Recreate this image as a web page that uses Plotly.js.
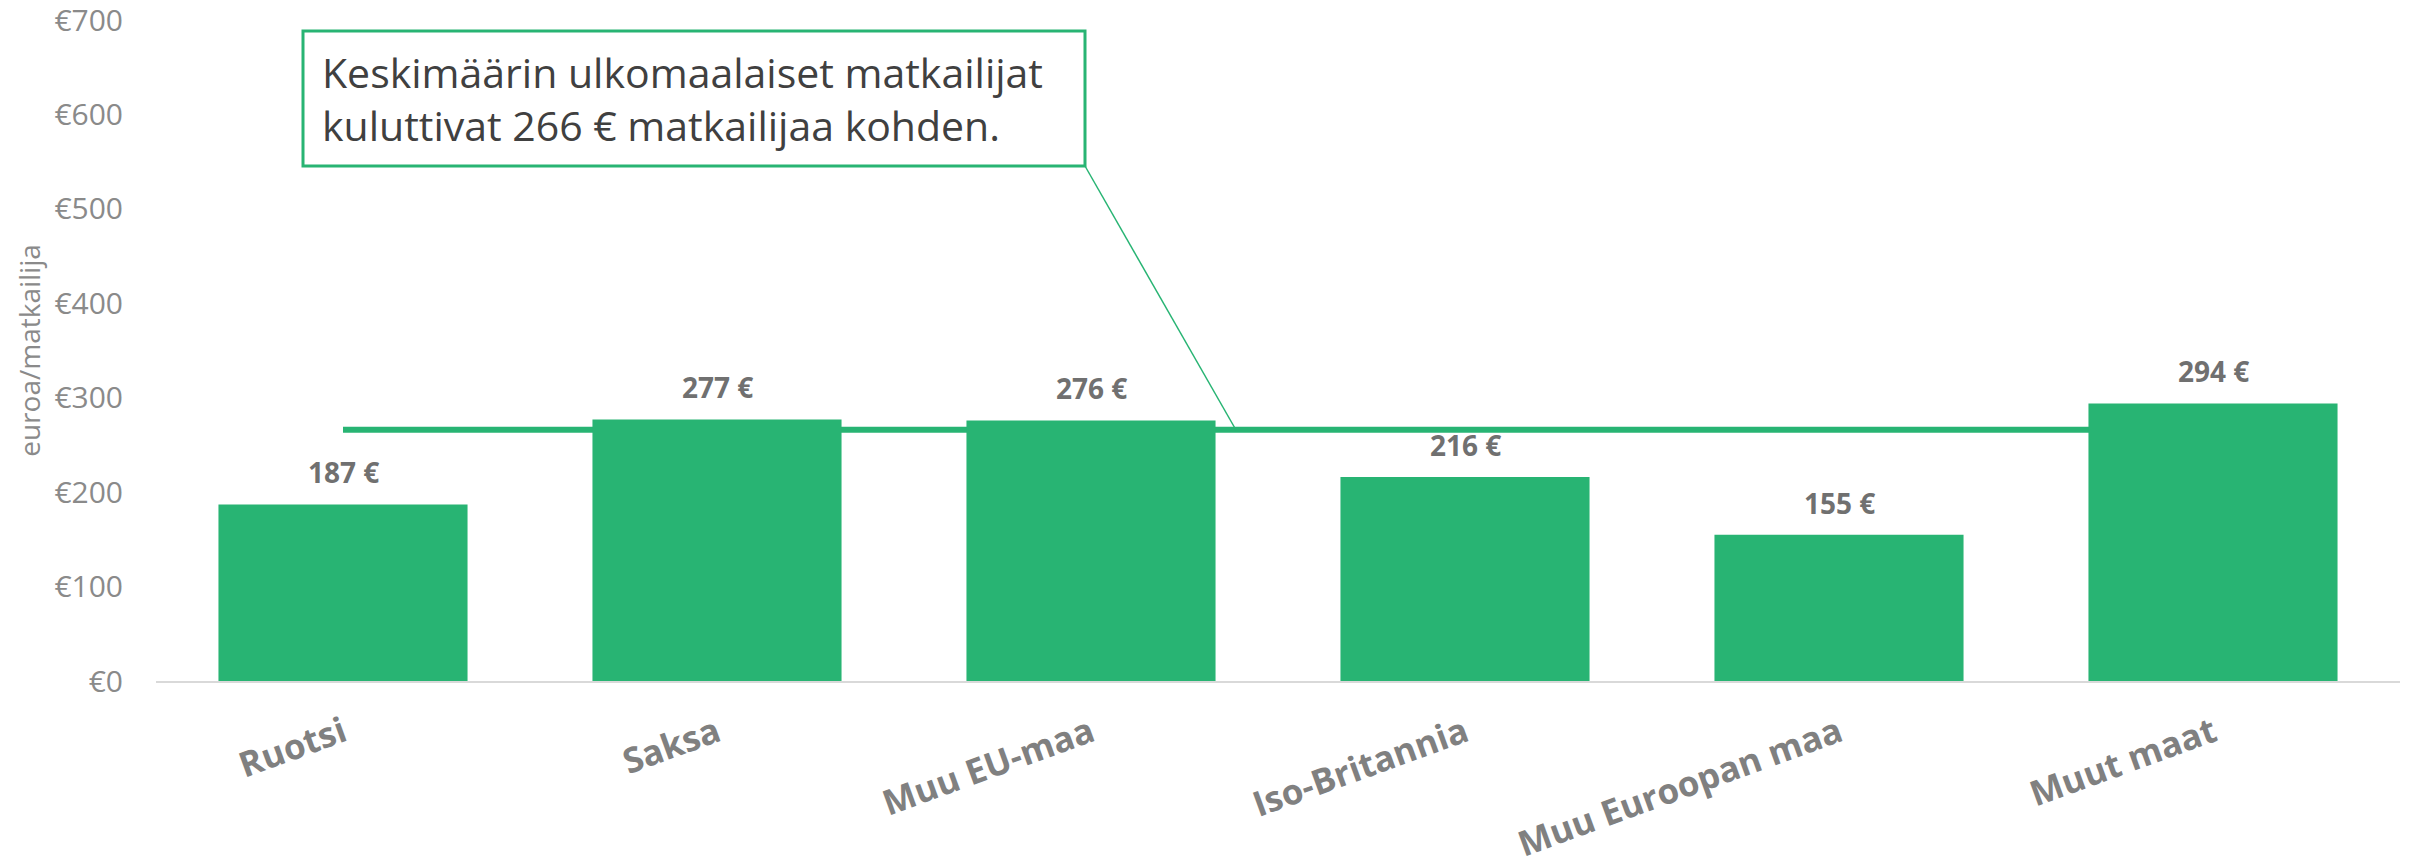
<!DOCTYPE html>
<html>
<head>
<meta charset="utf-8">
<script src="https://cdn.plot.ly/plotly-3.0.1.min.js"></script>
<style>html,body{margin:0;padding:0;background:#fff;}#chart{width:2410px;height:867px;}</style>
</head>
<body>
<div id="chart"></div>
<script>
// ---- data ----
const categories = ['Ruotsi', 'Saksa', 'Muu EU-maa', 'Iso-Britannia', 'Muu Euroopan maa', 'Muut maat'];
const spending = [187, 277, 276, 216, 155, 294];
const averageSpending = 266;
const averageSeries = categories.map(() => averageSpending);
const noteLines = ['Keskimäärin ulkomaalaiset matkailijat', 'kuluttivat 266 € matkailijaa kohden.'];
const yTitle = 'euroa/matkailija';

// ---- styling / geometry ----
const GREEN = '#28B473';
const W = 2410, H = 867;
const M = {l: 156, r: 10, t: 20, b: 186};
const PW = W - M.l - M.r, PH = H - M.t - M.b;
const px = x => (x - M.l) / PW;          // pixel -> paper x
const py = y => (M.t + PH - y) / PH;     // pixel -> paper y

const lineTrace = {
  type: 'scatter', mode: 'lines',
  x: categories, y: averageSeries,
  xaxis: 'x', yaxis: 'y',
  line: {color: GREEN, width: 6},
  hoverinfo: 'skip', showlegend: false
};
const barTrace = {
  type: 'bar',
  x: categories, y: spending,
  xaxis: 'x2', yaxis: 'y2',
  marker: {color: GREEN, line: {width: 0}},
  showlegend: false
};

const labelAnnotations = categories.map((c, i) => ({
  xref: 'x2', yref: 'y2', x: c, y: spending[i],
  text: spending[i] + ' €', showarrow: false,
  yanchor: 'bottom', yshift: 11,
  font: {family: 'Open Sans', size: 28, color: '#707070', weight: 700}
}));

const noteAnnotation = {
  xref: 'paper', yref: 'paper',
  x: px(321), y: py(98),
  xanchor: 'left', yanchor: 'middle', align: 'left',
  text: noteLines.join('<br>'), showarrow: false, borderpad: 0,
  font: {family: 'Open Sans', size: 41, color: '#404040'}
};

const xCommon = {
  type: 'category', range: [-0.5, 5.5], fixedrange: true
};

const layout = {
  width: W, height: H,
  margin: M,
  paper_bgcolor: '#ffffff', plot_bgcolor: '#ffffff',
  bargap: 0.334,
  showlegend: false,
  xaxis: Object.assign({}, xCommon, {
    showline: true, linecolor: '#d9d9d9', linewidth: 2,
    showgrid: false, zeroline: false,
    ticks: 'outside', ticklen: 16, tickcolor: 'rgba(0,0,0,0)',
    tickangle: -20,
    tickfont: {family: 'Open Sans', size: 35, color: '#808080', weight: 700}
  }),
  xaxis2: Object.assign({}, xCommon, {
    overlaying: 'x', visible: false
  }),
  yaxis: {
    range: [0, 700], dtick: 100, tick0: 0,
    tickprefix: '€',
    showgrid: false, zeroline: false, showline: false,
    ticks: '', ticklabelstandoff: 32, ticklabeloverflow: 'allow',
    tickfont: {family: 'Open Sans', size: 30, color: '#8a8a8a'},
    title: {text: yTitle, standoff: 5, font: {family: 'Open Sans', size: 28, color: '#8a8a8a'}},
    automargin: false, fixedrange: true
  },
  yaxis2: {
    range: [0, 700], overlaying: 'y', visible: false, fixedrange: true
  },
  shapes: [
    {type: 'rect', xref: 'paper', yref: 'paper',
     x0: px(303), x1: px(1085), y0: py(166), y1: py(31),
     line: {color: GREEN, width: 3}, fillcolor: 'rgba(0,0,0,0)'},
    {type: 'line', xref: 'paper', yref: 'paper',
     x0: px(1085), y0: py(166), x1: px(1236), y1: py(430),
     line: {color: GREEN, width: 1.5}}
  ],
  annotations: labelAnnotations.concat([noteAnnotation])
};

Plotly.newPlot('chart', [lineTrace, barTrace], layout, {staticPlot: true, displayModeBar: false});
</script>
</body>
</html>
